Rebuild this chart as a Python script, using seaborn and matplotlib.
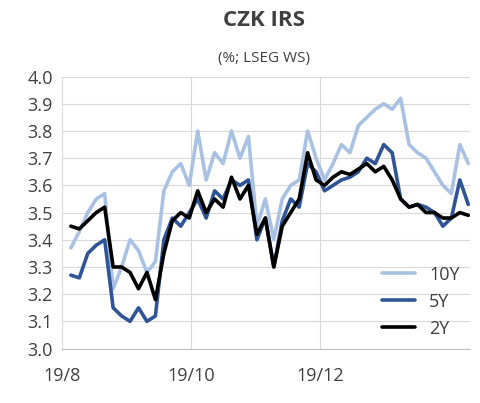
import pandas as pd, numpy as np
import matplotlib
matplotlib.use("Agg")
import matplotlib.pyplot as plt
import seaborn as sns

dates = pd.date_range("2019-08-05", periods=48, freq="4D")
y10 = [3.37,3.43,3.50,3.55,3.57,3.22,3.30,3.40,3.36,3.28,3.32,3.58,3.65,3.68,3.60,3.80,3.62,3.72,3.68,3.80,
       3.70,3.78,3.45,3.55,3.40,3.55,3.60,3.62,3.80,3.70,3.62,3.68,3.75,3.72,3.82,3.85,3.88,3.90,3.88,3.92,
       3.75,3.72,3.70,3.65,3.60,3.57,3.75,3.68]
y5 = [3.27,3.26,3.35,3.38,3.40,3.15,3.12,3.10,3.15,3.10,3.12,3.40,3.48,3.45,3.50,3.55,3.48,3.58,3.55,3.62,
      3.60,3.62,3.40,3.48,3.30,3.47,3.55,3.52,3.68,3.65,3.58,3.60,3.62,3.63,3.65,3.70,3.68,3.75,3.72,3.55,
      3.52,3.53,3.52,3.50,3.45,3.48,3.62,3.53]
y2 = [3.45,3.44,3.47,3.50,3.52,3.30,3.30,3.28,3.22,3.28,3.18,3.35,3.47,3.50,3.48,3.58,3.50,3.55,3.52,3.63,
      3.55,3.60,3.42,3.48,3.30,3.45,3.50,3.55,3.72,3.62,3.60,3.63,3.65,3.64,3.66,3.68,3.65,3.67,3.62,3.55,
      3.52,3.53,3.50,3.50,3.48,3.48,3.50,3.49]
names = ["10Y", "5Y", "2Y"]
colors = ["#a9c1e3", "#2f5597", "#000000"]

df = pd.DataFrame({"date": dates, "10Y": y10, "5Y": y5, "2Y": y2}).melt("date", var_name="s", value_name="v")

sns.set_style("white")
plt.rcParams["font.family"] = ["Open Sans", "DejaVu Sans"]
fig = plt.figure(figsize=(4.8, 4.03), dpi=100)
ax = fig.add_axes([0.13, 0.135, 0.85, 0.675])
sns.lineplot(data=df, x="date", y="v", hue="s", hue_order=names, palette=colors, linewidth=2.6, ax=ax)
ax.set_ylim(3.0, 4.0)
ax.set_yticks(np.arange(3.0, 4.01, 0.1))
ax.set_yticklabels([f"{v:.1f}" for v in np.arange(3.0, 4.01, 0.1)], fontsize=13, color="#404040")
ax.set_xlim(pd.Timestamp("2019-08-01"), pd.Timestamp("2020-02-10"))
ax.set_xticks(pd.to_datetime(["2019-08-01", "2019-10-01", "2019-12-01"]))
ax.set_xticklabels(["19/8", "19/10", "19/12"], fontsize=13, color="#404040")
ax.set_xlabel(""); ax.set_ylabel("")
ax.grid(True, color="#d9d9d9", linewidth=0.8)
for s in ["top", "right", "left"]:
    ax.spines[s].set_visible(False)
ax.spines["bottom"].set_color("#bfbfbf")
ax.tick_params(axis="x", pad=10)
leg = ax.legend(loc="lower right", frameon=False, fontsize=13, handlelength=1.8, borderaxespad=0.2)
for t in leg.get_texts():
    t.set_color("#404040")
fig.text(0.55, 0.935, "CZK IRS", ha="center", fontsize=16, fontweight="bold", color="#404040")
fig.text(0.55, 0.845, "(%; LSEG WS)", ha="center", fontsize=11, color="#404040")
fig.savefig("out.png", dpi=100)
